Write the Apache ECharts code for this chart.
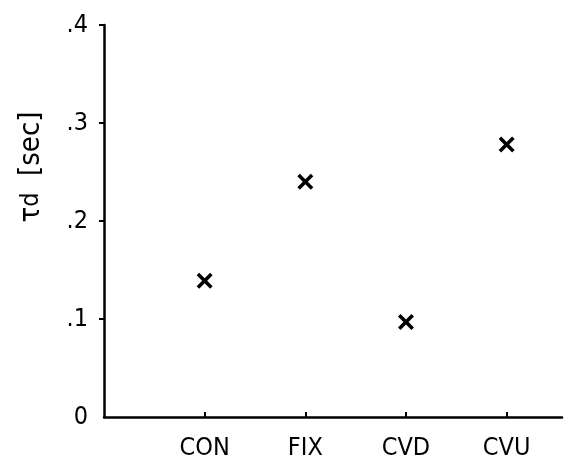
<!DOCTYPE html>
<html>
<head>
<meta charset="utf-8">
<script src="https://cdn.jsdelivr.net/npm/echarts@6/dist/echarts.min.js"></script>
<style>html,body{margin:0;padding:0;background:#fff;}#c{width:569px;height:465px;}</style>
</head>
<body>
<div id="c"></div>
<script>
const categories = ['CON', 'FIX', 'CVD', 'CVU'];
const tauD = [0.139, 0.240, 0.097, 0.278];
const yTickValues = [0, 0.1, 0.2, 0.3, 0.4];
const yTickLabels = ['0', '.1', '.2', '.3', '.4'];
const xTickValues = [1, 2, 3, 4];

const FONT = '"Liberation Sans Narrow", "DejaVu Sans Condensed", "Liberation Sans", sans-serif';
const crossPath = 'path://M0,1.6L1.6,0L5,3.4L8.4,0L10,1.6L6.6,5L10,8.4L8.4,10L5,6.6L1.6,10L0,8.4L3.4,5Z';

const chart = echarts.init(document.getElementById('c'), null, {renderer: 'canvas'});
chart.setOption({
  animation: false,
  backgroundColor: '#fff',
  grid: {left: 104, top: 25, right: 7, bottom: 48, containLabel: false},
  xAxis: {
    type: 'value', min: 0, max: 4.55,
    splitLine: {show: false},
    axisLine: {show: true, onZero: false, lineStyle: {color: '#000', width: 2.5}},
    axisTick: {show: true, inside: true, length: 5, customValues: xTickValues, lineStyle: {color: '#000', width: 2}},
    axisLabel: {
      customValues: xTickValues, margin: 19, color: '#000', fontFamily: FONT, fontSize: 25,
      formatter: v => categories[Math.round(v) - 1] || ''
    }
  },
  yAxis: {
    type: 'value', min: 0, max: 0.4, interval: 0.1,
    splitLine: {show: false},
    axisLine: {show: true, lineStyle: {color: '#000', width: 2.5}},
    axisTick: {show: true, inside: false, length: 5, customValues: yTickValues.slice(1), lineStyle: {color: '#000', width: 2}},
    axisLabel: {
      customValues: yTickValues, margin: 16, color: '#000', fontFamily: FONT, fontSize: 25,
      formatter: v => yTickLabels[Math.round(v * 10)]
    }
  },
  graphic: [{
    type: 'text', x: 31, y: 167, rotation: Math.PI / 2,
    style: {
      text: '{t|τ}{d|d}  {s|[sec]}',
      align: 'center', verticalAlign: 'middle',
      fill: '#000',
      fontFamily: FONT,
      fontSize: 29,
      rich: {
        t: {fontFamily: FONT, fontSize: 29, fill: '#000'},
        d: {fontFamily: FONT, fontSize: 25, fill: '#000'},
        s: {fontFamily: FONT, fontSize: 29, fill: '#000'}
      }
    }
  }],
  series: [{
    type: 'scatter',
    symbol: crossPath,
    symbolSize: 16,
    itemStyle: {color: '#000', opacity: 1},
    data: tauD.map((v, i) => [xTickValues[i], v])
  }]
});
</script>
</body>
</html>
